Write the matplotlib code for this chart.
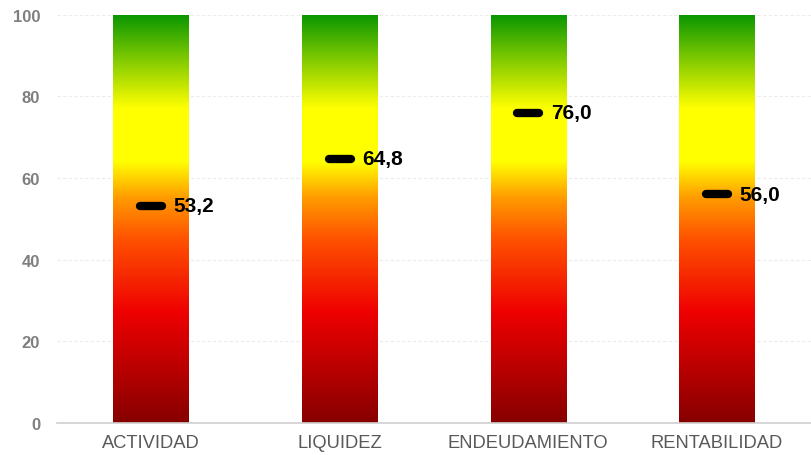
import matplotlib.pyplot as plt
import numpy as np
from matplotlib.colors import LinearSegmentedColormap

categories = ['ACTIVIDAD', 'LIQUIDEZ', 'ENDEUDAMIENTO', 'RENTABILIDAD']
values = [53.2, 64.8, 76.0, 56.0]
labels = ['53,2', '64,8', '76,0', '56,0']
yticks = [0, 20, 40, 60, 80, 100]

# gradient from bottom (0) to top (100)
cmap = LinearSegmentedColormap.from_list('semaforo', [
    (0.00, '#870000'),
    (0.27, '#ee0000'),
    (0.45, '#ff5200'),
    (0.55, '#ff9a00'),
    (0.64, '#ffff00'),
    (0.77, '#ffff00'),
    (0.88, '#8ccf00'),
    (1.00, '#0a9600'),
])

plt.rcParams['font.family'] = ['Liberation Sans', 'DejaVu Sans']

fig = plt.figure(figsize=(8.12, 4.56), dpi=100)
ax = fig.add_axes([0.070, 0.0702, 0.929, 0.895])

x = np.arange(len(categories))
width = 0.4
grad = np.linspace(0, 1, 512).reshape(-1, 1)

for xi, v, lab in zip(x, values, labels):
    ax.imshow(grad, cmap=cmap, origin='lower', aspect='auto',
              extent=(xi - width / 2, xi + width / 2, 0, 100), zorder=2)
    ax.plot([xi - 0.058, xi + 0.058], [v, v], color='black', lw=6,
            solid_capstyle='round', zorder=4)
    ax.text(xi + 0.12, v, lab, fontsize=15, fontweight='bold',
            color='black', va='center', ha='left', zorder=5)

ax.set_xlim(-0.5, len(categories) - 0.5)
ax.set_ylim(0, 100)
ax.set_yticks(yticks)
ax.set_yticklabels([str(t) for t in yticks], fontsize=12, fontweight='bold',
                   color='#7f7f7f')
ax.set_xticks(x)
ax.set_xticklabels(categories, fontsize=13.2, color='#595959')
ax.tick_params(axis='y', length=0, pad=12)
ax.tick_params(axis='x', length=0, pad=8)

ax.grid(axis='y', color='#ececec', linestyle=(0, (3, 2)), lw=0.8, zorder=0)
for s in ['top', 'right', 'left']:
    ax.spines[s].set_visible(False)
ax.spines['bottom'].set_color('#d0d0d0')
ax.spines['bottom'].set_linewidth(1.2)

fig.savefig('out.png', dpi=100)
